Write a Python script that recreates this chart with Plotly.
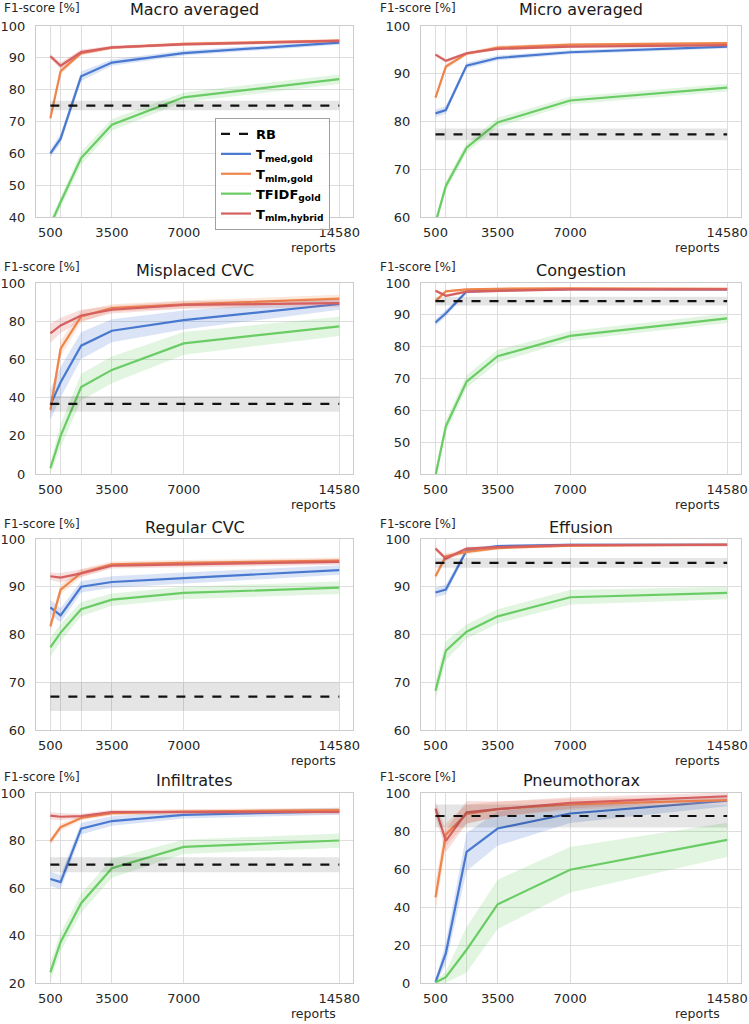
import plotly.graph_objects as go

# ---------------- data ----------------
reports = [500, 1000, 2000, 3500, 7000, 14580]
report_ticks = ["500", "", "", "3500", "7000", "14580"]
panels = ["Macro averaged", "Micro averaged", "Misplaced CVC", "Congestion",
          "Regular CVC", "Effusion", "Infiltrates", "Pneumothorax"]
y_min = [40, 60, 0, 40, 60, 60, 20, 0]
y_max = [100, 100, 100, 100, 100, 100, 100, 100]
y_step = [10, 10, 20, 10, 10, 10, 20, 20]

med_gold = [
    [60.0, 64.6, 84.2, 88.5, 91.5, 94.8],
    [81.7, 82.4, 91.7, 93.3, 94.5, 95.7],
    [36.2, 48.0, 67.2, 75.0, 80.6, 89.0],
    [87.6, 90.5, 97.3, 97.7, 98.1, 98.0],
    [85.7, 84.0, 90.0, 91.0, 91.8, 93.5],
    [88.8, 89.4, 97.6, 98.5, 98.8, 98.8],
    [63.8, 62.5, 85.0, 88.2, 90.8, 92.3],
    [0.5, 15.7, 69.0, 81.3, 89.2, 96.0],
]
med_gold_ci = [
    [1.2, 1.5, 1.5, 1.0, 0.8, 0.7],
    [0.8, 0.8, 0.6, 0.5, 0.4, 0.4],
    [8.0, 8.0, 7.0, 6.0, 5.0, 3.0],
    [1.0, 1.0, 0.5, 0.5, 0.3, 0.3],
    [1.5, 1.5, 1.2, 1.2, 1.2, 1.0],
    [1.0, 1.0, 0.5, 0.3, 0.3, 0.3],
    [3.0, 3.0, 2.5, 2.0, 1.5, 1.5],
    [1.0, 6.0, 10.0, 9.0, 5.0, 3.0],
]
mlm_gold = [
    [71.0, 85.8, 91.5, 93.2, 94.4, 95.4],
    [85.0, 91.5, 94.2, 95.5, 96.1, 96.4],
    [33.6, 65.6, 82.5, 86.9, 88.8, 91.8],
    [94.3, 97.4, 98.0, 98.2, 98.3, 98.2],
    [81.7, 89.4, 92.9, 94.7, 95.0, 95.5],
    [92.2, 96.4, 97.3, 98.1, 98.6, 98.8],
    [79.6, 85.6, 89.5, 91.5, 92.2, 92.8],
    [45.1, 78.1, 89.0, 91.5, 94.0, 96.3],
]
mlm_gold_ci = [
    [1.0, 1.0, 0.7, 0.5, 0.5, 0.5],
    [0.6, 0.6, 0.4, 0.4, 0.3, 0.3],
    [4.0, 4.0, 3.0, 2.0, 2.0, 2.0],
    [0.5, 0.5, 0.3, 0.3, 0.3, 0.3],
    [1.2, 1.0, 0.8, 0.6, 0.6, 0.6],
    [0.8, 0.6, 0.5, 0.3, 0.3, 0.3],
    [1.5, 1.5, 1.0, 1.0, 1.0, 1.0],
    [8.0, 6.0, 5.0, 4.0, 3.0, 2.0],
]
tfidf_gold = [
    [37.5, 44.7, 58.5, 69.0, 77.6, 83.3],
    [58.8, 66.5, 74.5, 79.8, 84.4, 87.1],
    [3.0, 20.0, 45.5, 54.5, 68.4, 77.3],
    [39.5, 55.0, 69.0, 77.0, 83.4, 88.9],
    [77.3, 80.4, 85.3, 87.3, 88.7, 89.8],
    [68.2, 76.6, 80.6, 83.8, 87.8, 88.7],
    [24.5, 37.3, 53.6, 68.3, 77.3, 80.0],
    [0.3, 3.1, 17.5, 41.4, 59.6, 75.3],
]
tfidf_gold_ci = [
    [1.5, 1.5, 2.0, 1.8, 1.5, 1.5],
    [1.0, 1.0, 1.0, 1.0, 0.8, 0.8],
    [3.0, 6.0, 7.0, 7.0, 6.0, 5.0],
    [2.0, 2.0, 2.0, 2.0, 1.5, 1.5],
    [2.0, 1.8, 1.5, 1.3, 1.3, 1.3],
    [2.0, 2.0, 1.5, 1.5, 1.5, 1.3],
    [4.0, 4.0, 4.0, 4.0, 3.0, 3.0],
    [1.0, 3.0, 12.0, 13.0, 12.0, 9.0],
]
mlm_hybrid = [
    [90.5, 87.5, 91.8, 93.3, 94.2, 95.3],
    [94.0, 92.7, 94.3, 95.2, 95.7, 96.0],
    [73.6, 77.8, 83.0, 86.0, 88.5, 89.5],
    [97.6, 96.0, 97.3, 97.5, 98.0, 98.0],
    [92.2, 91.9, 92.8, 94.4, 94.7, 95.2],
    [98.0, 95.9, 98.0, 98.3, 98.7, 98.8],
    [90.5, 90.0, 90.3, 92.0, 92.0, 92.0],
    [91.8, 74.8, 89.8, 91.5, 94.8, 98.3],
]
mlm_hybrid_ci = [
    [0.8, 1.0, 0.8, 0.5, 0.5, 0.5],
    [0.4, 0.4, 0.3, 0.3, 0.3, 0.3],
    [5.0, 4.0, 3.0, 2.0, 2.0, 2.0],
    [0.5, 0.5, 0.5, 0.4, 0.4, 0.4],
    [0.8, 1.0, 0.8, 0.6, 0.6, 0.6],
    [0.5, 0.5, 0.4, 0.3, 0.3, 0.3],
    [1.5, 1.5, 1.0, 1.0, 1.0, 1.0],
    [4.0, 6.0, 6.0, 4.0, 3.0, 2.0],
]
rb_mean = [75.0, 77.3, 36.7, 94.3, 67.0, 95.0, 69.8, 87.9]
rb_ci = [1.5, 1.25, 4.1, 1.4, 3.0, 1.0, 3.2, 6.0]

series_names = ["<b>T<sub>med,gold</sub></b>", "<b>T<sub>mlm,gold</sub></b>",
                "<b>TFIDF<sub>gold</sub></b>", "<b>T<sub>mlm,hybrid</sub></b>"]
series_means = [med_gold, mlm_gold, tfidf_gold, mlm_hybrid]
series_cis = [med_gold_ci, mlm_gold_ci, tfidf_gold_ci, mlm_hybrid_ci]
series_colors = ["#4878d0", "#ee854a", "#6acc64", "#d65f5f"]
series_fills = ["rgba(72,120,208,0.2)", "rgba(238,133,74,0.2)",
                "rgba(106,204,100,0.2)", "rgba(214,95,95,0.2)"]

# ---------------- layout geometry ----------------
W, H = 749, 1024
FONT = "DejaVu Sans"
col_px = [(36, 353), (421, 741)]
row_px = [(26, 217), (283, 474), (539, 730), (793, 983)]
title_cy = [9, 270, 527, 780]
ylab_cy = [8, 267, 524, 777]
ylab_x = [2, 378]
reports_cx = [313, 697]

fig = go.Figure()
layout = dict(
    width=W, height=H, margin=dict(l=0, r=0, t=0, b=0, autoexpand=False),
    paper_bgcolor="white", plot_bgcolor="white",
    font=dict(family=FONT, color="#262626"),
    showlegend=True,
    legend=dict(x=215 / W, y=1 - 118 / H, xanchor="left", yanchor="top",
                bgcolor="rgba(255,255,255,0.85)", bordercolor="#a0a0a0",
                borderwidth=1, font=dict(family=FONT, size=13, color="black"),
                tracegroupgap=0),
)
annotations = []

for i, title in enumerate(panels):
    r, c = divmod(i, 2)
    sfx = "" if i == 0 else str(i + 1)
    xa, ya = "x" + sfx, "y" + sfx
    x0, x1 = col_px[c]
    t0, t1 = row_px[r]
    common = dict(showgrid=True, gridcolor="#dedede", gridwidth=1,
                  showline=True, mirror=True, linecolor="#cccccc", linewidth=1,
                  zeroline=False, ticks="", automargin=False,
                  tickfont=dict(family=FONT, size=13, color="#262626"))
    layout["xaxis" + sfx] = dict(domain=[x0 / W, x1 / W], anchor=ya,
                                 range=[-200, 15250], tickmode="array",
                                 tickvals=reports, ticktext=report_ticks,
                                 ticklabelstandoff=3, **common)
    layout["yaxis" + sfx] = dict(domain=[1 - t1 / H, 1 - t0 / H], anchor=xa,
                                 range=[y_min[i], y_max[i]], dtick=y_step[i],
                                 tick0=0, ticklabelstandoff=7, **common)

    for k in range(4):
        m = series_means[k][i]
        ci = series_cis[k][i]
        up = [a + b for a, b in zip(m, ci)]
        lo = [a - b for a, b in zip(m, ci)]
        fig.add_trace(go.Scatter(x=reports + reports[::-1], y=up + lo[::-1],
                                 fill="toself", fillcolor=series_fills[k],
                                 line=dict(width=0), mode="lines", hoverinfo="skip",
                                 showlegend=False, xaxis=xa, yaxis=ya))
        fig.add_trace(go.Scatter(x=reports, y=m, mode="lines",
                                 line=dict(color=series_colors[k], width=2.2),
                                 name=series_names[k], legendgroup=str(k),
                                 legendrank=k + 2, showlegend=(i == 0),
                                 xaxis=xa, yaxis=ya))
    rx = [reports[0], reports[-1]]
    fig.add_trace(go.Scatter(x=rx + rx[::-1],
                             y=[rb_mean[i] + rb_ci[i]] * 2 + [rb_mean[i] - rb_ci[i]] * 2,
                             fill="toself", fillcolor="rgba(0,0,0,0.1)",
                             line=dict(width=0), mode="lines", hoverinfo="skip",
                             showlegend=False, xaxis=xa, yaxis=ya))
    fig.add_trace(go.Scatter(x=rx, y=[rb_mean[i]] * 2, mode="lines",
                             line=dict(color="#111111", width=2.2, dash="dash"),
                             name="<b>RB</b>", legendgroup="rb", legendrank=1,
                             showlegend=(i == 0), xaxis=xa, yaxis=ya))

    annotations.append(dict(text=title, xref="paper", yref="paper",
                            x=(x0 + x1) / 2 / W, y=1 - title_cy[r] / H,
                            xanchor="center", yanchor="middle", showarrow=False,
                            font=dict(family=FONT, size=16, color="#1a1a1a")))
    annotations.append(dict(text="F1-score [%]", xref="paper", yref="paper",
                            x=ylab_x[c] / W, y=1 - ylab_cy[r] / H,
                            xanchor="left", yanchor="middle", showarrow=False,
                            font=dict(family=FONT, size=12, color="#262626")))
    annotations.append(dict(text="reports", xref="paper", yref="paper",
                            x=reports_cx[c] / W, y=1 - (t1 + 30) / H,
                            xanchor="center", yanchor="middle", showarrow=False,
                            font=dict(family=FONT, size=12.5, color="#262626")))

layout["annotations"] = annotations
fig.update_layout(**layout)
fig.write_html("out.html", config={"displayModeBar": False},
               post_script="document.body.style.margin='0';")
